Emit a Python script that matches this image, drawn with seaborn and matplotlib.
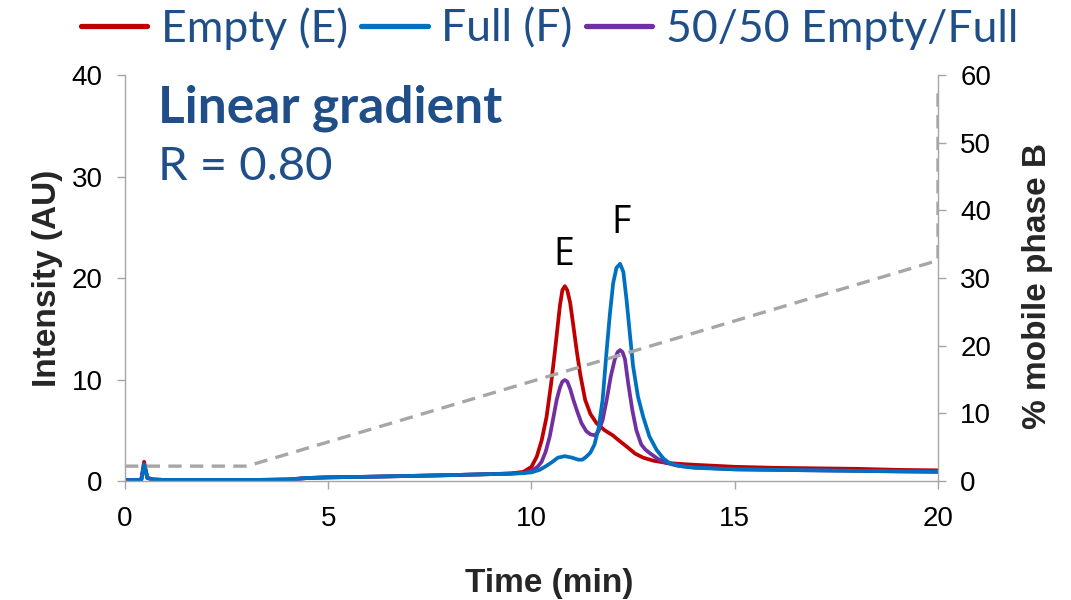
import matplotlib
matplotlib.use("Agg")
import matplotlib.pyplot as plt
from matplotlib.lines import Line2D
import seaborn as sns

# ---- data ----
t_empty = [0, 0.4, 0.47, 0.55, 0.7, 1, 2, 3, 3.5, 4, 4.5, 5, 6, 7, 8, 9, 9.5, 9.8,
           10.0, 10.13, 10.25, 10.37, 10.48, 10.58, 10.7, 10.76, 10.82, 10.88, 10.95,
           11.03, 11.11, 11.2, 11.32, 11.45, 11.6, 11.8, 12.0, 12.15, 12.34, 12.55,
           12.75, 13.0, 13.3, 13.6, 14, 15, 16, 17, 18, 19, 20]
y_empty = [0.1, 0.1, 1.9, 0.3, 0.15, 0.1, 0.1, 0.1, 0.12, 0.15, 0.3, 0.36, 0.42, 0.5, 0.58, 0.68, 0.75, 0.9,
           1.4, 2.4, 4.0, 6.3, 9.5, 12.9, 17.3, 18.8, 19.2, 18.8, 17.6,
           15.3, 12.9, 10.5, 8.0, 6.6, 5.7, 5.0, 4.5, 4.0, 3.4, 2.7,
           2.3, 2.0, 1.8, 1.7, 1.6, 1.4, 1.3, 1.25, 1.2, 1.1, 1.05]

t_full = [0, 0.4, 0.47, 0.55, 0.7, 1, 2, 3, 3.5, 4, 4.5, 5, 6, 7, 8, 9, 9.5, 9.8,
          10.0, 10.2, 10.35, 10.5, 10.65, 10.82, 11.0, 11.15, 11.25, 11.35, 11.45, 11.55,
          11.65, 11.75, 11.85, 11.93, 12.01, 12.09, 12.18, 12.26, 12.34, 12.42, 12.5, 12.62,
          12.75, 12.9, 13.08, 13.25, 13.4, 13.7, 14, 15, 16, 17, 18, 19, 20]
y_full = [0.1, 0.1, 1.6, 0.3, 0.15, 0.1, 0.1, 0.1, 0.12, 0.15, 0.3, 0.36, 0.42, 0.5, 0.58, 0.68, 0.72, 0.78,
          0.85, 1.1, 1.45, 1.85, 2.3, 2.45, 2.3, 2.1, 2.1, 2.4, 2.8, 3.6,
          5.2, 8.0, 12.9, 16.5, 19.5, 21.0, 21.4, 20.6, 17.8, 14.5, 11.3, 8.3,
          6.3, 4.4, 3.05, 2.2, 1.75, 1.45, 1.3, 1.15, 1.1, 1.05, 1.0, 0.95, 0.92]

t_mix = [0, 0.4, 0.47, 0.55, 0.7, 1, 2, 3, 3.5, 4, 4.5, 5, 6, 7, 8, 9, 9.5, 9.8,
         10.0, 10.15, 10.25, 10.35, 10.45, 10.55, 10.62, 10.7, 10.76, 10.82, 10.88, 10.95,
         11.03, 11.13, 11.23, 11.35, 11.45, 11.56, 11.65, 11.75, 11.85, 11.95, 12.05, 12.12,
         12.18, 12.24, 12.3, 12.38, 12.48, 12.58, 12.7, 12.8, 12.91, 13.1, 13.3, 13.6, 14,
         15, 16, 17, 18, 19, 20]
y_mix = [0.1, 0.1, 1.7, 0.3, 0.15, 0.1, 0.1, 0.1, 0.12, 0.15, 0.3, 0.36, 0.42, 0.5, 0.58, 0.68, 0.73, 0.8,
         1.0, 1.4, 1.9, 2.9, 4.4, 6.5, 8.0, 9.2, 9.8, 9.95, 9.8, 9.1,
         8.0, 6.8, 5.7, 4.9, 4.6, 4.5, 4.9, 6.0, 8.0, 10.3, 12.0, 12.7,
         12.9, 12.7, 12.0, 9.6, 7.0, 5.0, 3.6, 3.1, 2.75, 2.2, 1.8, 1.5, 1.35,
         1.15, 1.1, 1.05, 1.0, 0.95, 0.9]

t_grad = [0, 3, 20, 20]
pct_b = [2.2, 2.2, 32.6, 58]

series_names = ["Empty (E)", "Full (F)", "50/50 Empty/Full"]
series_colors = ["#c00000", "#0070c0", "#7030a0"]
peak_labels = ["E", "F"]
peak_label_x = [10.8, 12.19]
peak_label_y = [22.3, 25.4]

title_text = "Linear gradient"
subtitle_text = "R = 0.80"

# ---- plotting ----
sns.set_style("ticks")
plt.rcParams["font.family"] = ["Liberation Sans", "DejaVu Sans"]

fig = plt.figure(figsize=(10.71, 6.0), dpi=100)
ax = fig.add_axes([0.1167, 0.1983, 0.7591, 0.6767])
ax2 = ax.twinx()

gray = "#a6a6a6"
text_blue = "#1f4e89"

# gradient (secondary axis)
sns.lineplot(x=t_grad, y=pct_b, ax=ax2, color=gray, linewidth=2.4,
             linestyle=(0, (4, 2.5)), sort=False, estimator=None)

series = [(t_empty, y_empty), (t_full, y_full), (t_mix, y_mix)]
for i in [0, 2, 1]:
    t, y = series[i]
    sns.lineplot(x=t, y=y, ax=ax, color=series_colors[i], linewidth=2.7,
                 sort=False, estimator=None)

ax.set_xlim(0, 20)
ax.set_ylim(0, 40)
ax2.set_ylim(0, 60)
ax.set_xticks([0, 5, 10, 15, 20])
ax.set_yticks([0, 10, 20, 30, 40])
ax2.set_yticks([0, 10, 20, 30, 40, 50, 60])

for a in (ax, ax2):
    for s in a.spines.values():
        s.set_color(gray)
        s.set_linewidth(1.0)
    a.spines["top"].set_visible(False)
    a.tick_params(colors=gray, labelcolor="black", labelsize=20, length=6, width=1.0, pad=10)
ax.spines["right"].set_visible(False)
ax2.spines["left"].set_visible(False)
ax2.spines["bottom"].set_visible(False)
ax.tick_params(axis="x", pad=12)

ax.set_xlabel("Time (min)", fontsize=24, fontweight="bold", labelpad=26)
ax.xaxis.label.set_x(0.5215)
ax.set_ylabel("Intensity (AU)", fontsize=24, fontweight="bold", labelpad=6)
ax2.set_ylabel("% mobile phase B", fontsize=24, fontweight="bold", labelpad=22)
ax2.yaxis.label.set_y(0.48)

for lab, x, y in zip(peak_labels, peak_label_x, peak_label_y):
    ax.text(x, y, lab, fontsize=27, color="black", ha="center", va="center",
            family=["Open Sans", "DejaVu Sans"])

ax.text(0.0406, 0.884, title_text, transform=ax.transAxes, fontsize=37, fontweight="bold",
        color=text_blue, ha="left", va="baseline", family=["Lato", "DejaVu Sans"])
ax.text(0.0406, 0.741, subtitle_text, transform=ax.transAxes, fontsize=34,
        color=text_blue, ha="left", va="baseline", family=["Lato", "DejaVu Sans"])

handles = [Line2D([0], [0], color=c, linewidth=3.8) for c in series_colors]
leg = fig.legend(handles, series_names, loc="center", bbox_to_anchor=(0.513, 0.953),
                 ncol=3, frameon=False, handlelength=1.5, handletextpad=0.3,
                 columnspacing=0.3, prop={"family": ["Lato", "DejaVu Sans"], "size": 32})
for txt in leg.get_texts():
    txt.set_color(text_blue)

fig.savefig("out.png", dpi=100)
